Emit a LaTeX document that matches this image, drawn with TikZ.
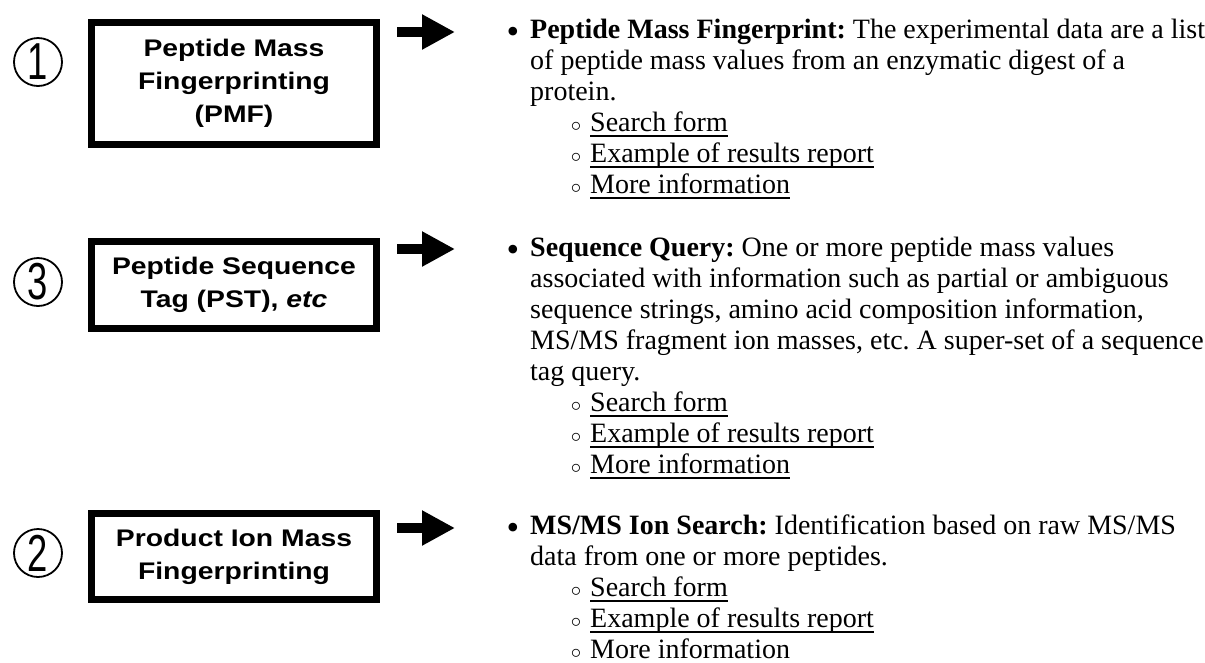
\documentclass[tikz,border=0pt]{standalone}
\usepackage{fontspec}
\setmainfont{Liberation Serif}
\newfontfamily\boxfont[FakeStretch=1.18]{Liberation Sans}
\newfontfamily\numfont[FakeStretch=0.7]{Liberation Sans}
\usetikzlibrary{arrows.meta,positioning}

\frenchspacing
\newcommand{\bulletmark}{\llap{\raisebox{-5pt}{\fontsize{36}{36}\selectfont\textbullet}\hspace{11pt}}}
\newcommand{\linkitem}[1]{\hspace*{60pt}\llap{$\scriptstyle\circ$\hspace{9pt}}#1}
\newcommand{\linkline}[1]{\setbox0\hbox{#1}\rlap{\rule[-5.5pt]{\wd0}{1.6pt}}\box0}

\begin{document}
\begin{tikzpicture}[
		x=1pt, y=-1pt,
		searchbox/.style={rectangle, draw, line width=6.5pt, minimum width=285pt, align=center,
			inner sep=0pt, font=\boxfont\bfseries\fontsize{24}{33}\selectfont},
		numcirc/.style={circle, draw, line width=1.8pt, minimum size=48pt, inner sep=0pt,
			font=\numfont\fontsize{52}{52}\selectfont},
		desc/.style={anchor=base west, inner sep=0pt, align=left, font=\fontsize{28}{31}\selectfont},
		bigarrow/.style={line width=10pt, -{Triangle[length=33pt, width=33pt]}}
	]
  \useasboundingbox[fill=white] (0,0) rectangle (1205,662);
  % search types
  \node (pmfBox) [searchbox, minimum height=122pt] at (234,83.5) {Peptide Mass\\Fingerprinting\\(PMF)};
  \node (pstBox) [searchbox, minimum height=87pt] at (234,285) {Peptide Sequence\\Tag (PST), \textit{etc}};
  \node (pimfBox) [searchbox, minimum height=86pt] at (234,556.5) {Product Ion Mass\\Fingerprinting};
  \node (pmfNum) [numcirc] at (38,62) {1};
  \node (pstNum) [numcirc] at (38,282) {3};
  \node (pimfNum) [numcirc] at (38,553) {2};
  % mascot descriptions (placed at the baseline of their last line)
  \node (pmfText) [desc] at (530,193) {\bulletmark\textbf{Peptide Mass Fingerprint:} The experimental data are a list\\
    of peptide mass values from an enzymatic digest of a\\
    protein.\\
    \linkitem{\linkline{Search form}}\\
    \linkitem{\linkline{Example of results report}}\\
    \linkitem{\linkline{More information}}};
  \node (pstText) [desc] at (530,473) {\bulletmark\textbf{Sequence Query:} One or more peptide mass values\\
    associated with information such as partial or ambiguous\\
    sequence strings, amino acid composition information,\\
    MS/MS fragment ion masses, etc. A super-set of a sequence\\
    tag query.\\
    \linkitem{\linkline{Search form}}\\
    \linkitem{\linkline{Example of results report}}\\
    \linkitem{\linkline{More information}}};
  \node (pimfText) [desc] at (530,658) {\bulletmark\textbf{MS/MS Ion Search:} Identification based on raw MS/MS\\
    data from one or more peptides.\\
    \linkitem{\linkline{Search form}}\\
    \linkitem{\linkline{Example of results report}}\\
    \linkitem{More information}};
  \coordinate (pmfArrS) at (397,32);
  \coordinate (pmfArrE) at (455,32);
  \coordinate (pstArrS) at (397,249);
  \coordinate (pstArrE) at (455,249);
  \coordinate (pimfArrS) at (397,528);
  \coordinate (pimfArrE) at (455,528);
  \draw [bigarrow] (pmfArrS) -- (pmfArrE);
  \draw [bigarrow] (pstArrS) -- (pstArrE);
  \draw [bigarrow] (pimfArrS) -- (pimfArrE);
\end{tikzpicture}
\end{document}
